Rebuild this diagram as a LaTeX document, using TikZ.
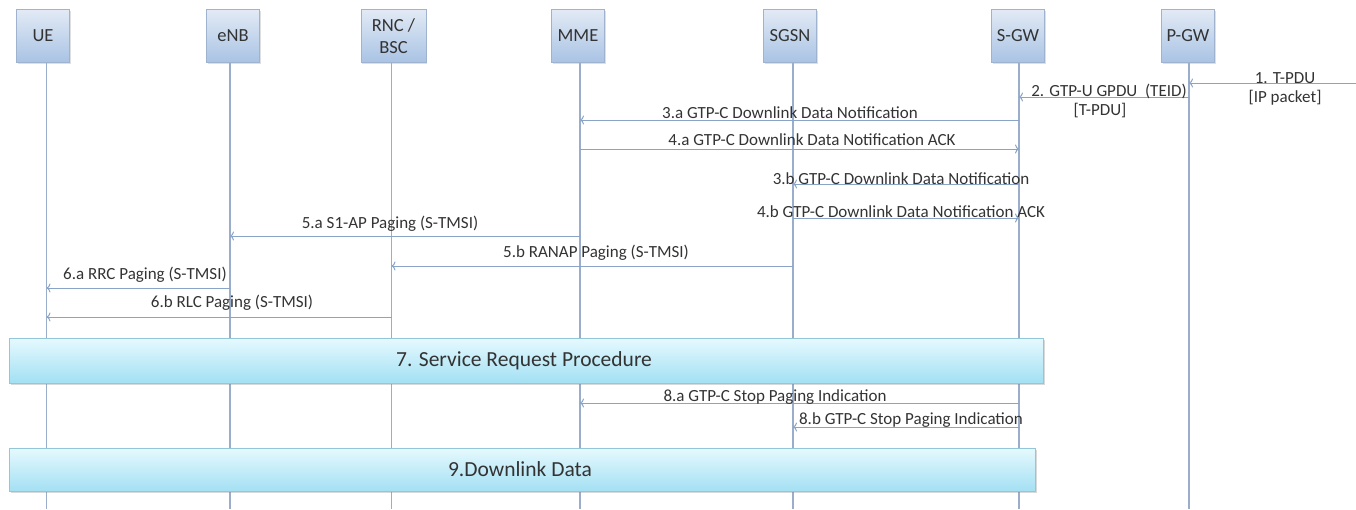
\documentclass[tikz,border=0pt]{standalone}
\usepackage{fontspec}
\setmainfont{Carlito}
\usetikzlibrary{arrows.meta,shadows}
\definecolor{lifec}{HTML}{9AAECB}
\definecolor{arrc}{HTML}{8AA4C8}
\definecolor{txtc}{HTML}{333333}
\definecolor{hdtop}{HTML}{E2EAF5}
\definecolor{hdbot}{HTML}{A9C3E4}
\definecolor{hdbrd}{HTML}{9FB3CF}
\definecolor{bartop}{HTML}{E6F9FE}
\definecolor{barbot}{HTML}{A3E0F3}
\definecolor{barbrd}{HTML}{92C6D8}
\tikzset{
  hdr/.style={draw=hdbrd, top color=hdtop, bottom color=hdbot, minimum width=53pt, minimum height=53pt,
    inner sep=1pt, align=center, font=\fontsize{18.5}{22}\selectfont, text=txtc,
    drop shadow={shadow xshift=1pt, shadow yshift=-1pt, opacity=0.25}},
  life/.style={draw=lifec, line width=1.1pt},
  msg/.style={draw=arrc, line width=1pt, -{To[length=4pt,width=9pt]}},
  lbl/.style={font=\fontsize{17}{19}\selectfont, text=txtc, inner sep=0pt},
  bar/.style={draw=barbrd, top color=bartop, bottom color=barbot,
    drop shadow={shadow xshift=1.5pt, shadow yshift=-1.5pt, opacity=0.3}},
  bartxt/.style={font=\fontsize{21.5}{24}\selectfont, text=txtc, inner sep=0pt}
}
\begin{document}
\begin{tikzpicture}[x=1pt,y=-1pt]
\useasboundingbox (0,0) rectangle (1356,509);
% headers
\node[hdr] (ue) at (43,36) {UE};
\node[hdr] (enb) at (233,36) {eNB};
\node[hdr, minimum width=65pt] (rnc) at (393.5,36) {RNC /\\BSC};
\node[hdr] (mme) at (578,36) {MME};
\node[hdr] (sgsn) at (790,36) {SGSN};
\node[hdr] (sgw) at (1018,36) {S-GW};
\node[hdr] (pgw) at (1188,36) {P-GW};
% lifelines
\coordinate (ueb) at (46.5,509);
\coordinate (enbb) at (230,509);
\coordinate (rncb) at (391.5,509);
\coordinate (mmeb) at (580,509);
\coordinate (sgsnb) at (793,509);
\coordinate (sgwb) at (1019,509);
\coordinate (pgwb) at (1189,509);
\draw[life] (ueb |- ue.south) -- (ueb);
\draw[life] (enbb |- enb.south) -- (enbb);
\draw[life] (rncb |- rnc.south) -- (rncb);
\draw[life] (mmeb |- mme.south) -- (mmeb);
\draw[life] (sgsnb |- sgsn.south) -- (sgsnb);
\draw[life] (sgwb |- sgw.south) -- (sgwb);
\draw[life] (pgwb |- pgw.south) -- (pgwb);
% external source
\coordinate (ext) at (1356,83);
% messages
\draw[msg] (ext) -- (pgwb |- ext);
\node[lbl] (l1) at (1285,78) {1. T-PDU};
\node[lbl] (l1b) at (1285,98) {[IP packet]};
\draw[msg] (pgwb |- 0,97) -- (sgwb |- 0,97);
\node[lbl] (l2) at (1109,91) {2. GTP-U GPDU~~(TEID)};
\node[lbl] (l2b) at (1100,111) {[T-PDU]};
\draw[msg] (sgwb |- 0,120) -- (mmeb |- 0,120);
\node[lbl] (l3a) at (790,113) {3.a GTP-C Downlink Data Notification};
\draw[msg] (mmeb |- 0,149) -- (sgwb |- 0,149);
\node[lbl] (l4a) at (812,140) {4.a GTP-C Downlink Data Notification ACK};
\draw[msg] (sgwb |- 0,184) -- (sgsnb |- 0,184);
\node[lbl] (l3b) at (901,179) {3.b GTP-C Downlink Data Notification};
\draw[msg] (sgsnb |- 0,218) -- (sgwb |- 0,218);
\node[lbl] (l4b) at (901,212) {4.b GTP-C Downlink Data Notification ACK};
\draw[msg] (mmeb |- 0,236) -- (enbb |- 0,236);
\node[lbl] (l5a) at (390,224) {5.a S1-AP Paging (S-TMSI)};
\draw[msg] (sgsnb |- 0,266) -- (rncb |- 0,266);
\node[lbl] (l5b) at (596,253) {5.b RANAP Paging (S-TMSI)};
\draw[msg] (enbb |- 0,288) -- (ueb |- 0,288);
\node[lbl] (l6a) at (145,275) {6.a RRC Paging (S-TMSI)};
\draw[msg] (rncb |- 0,317) -- (ueb |- 0,317);
\node[lbl] (l6b) at (232,303) {6.b RLC Paging (S-TMSI)};
% bar 7
\draw[bar] (9,338) rectangle (1043,383);
\node[bartxt] (b7) at (524,361) {7. Service Request Procedure};
\draw[msg] (sgwb |- 0,403) -- (mmeb |- 0,403);
\node[lbl] (l8a) at (775,397) {8.a GTP-C Stop Paging Indication};
\draw[msg] (sgwb |- 0,427) -- (sgsnb |- 0,427);
\node[lbl] (l8b) at (911,420) {8.b GTP-C Stop Paging Indication};
% bar 9
\draw[bar] (9,448) rectangle (1035,491);
\node[bartxt] (b9) at (520,469) {9.Downlink Data};
\end{tikzpicture}
\end{document}
